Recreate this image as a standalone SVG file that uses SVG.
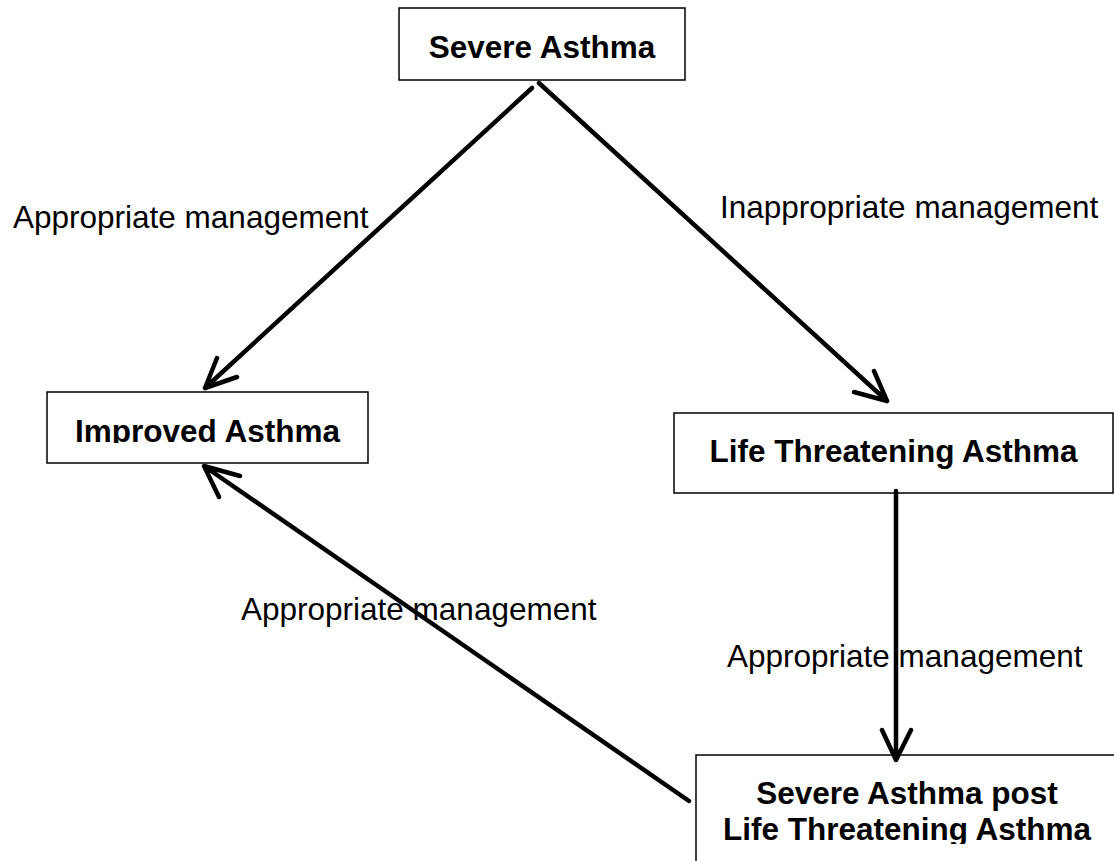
<svg xmlns="http://www.w3.org/2000/svg" width="1114" height="861" viewBox="0 0 1114 861">
<style>
.box{fill:#fff;stroke:#000;stroke-width:1.5}
.nt{font-family:"Liberation Sans",Arial,sans-serif;font-weight:bold;font-size:31.5px;fill:#000;text-anchor:middle}
.lb{font-family:"Liberation Sans",Arial,sans-serif;font-size:31.5px;fill:#000}
.cn{fill:none;stroke:#000;stroke-width:4.5;stroke-linecap:round;stroke-linejoin:round}
</style>
<defs>
<clipPath id="c1"><rect x="40" y="380" width="340" height="63"/></clipPath>
<clipPath id="c2"><rect x="690" y="750" width="424" height="94"/></clipPath>
</defs>
<rect width="1114" height="861" fill="#fff"/>
<g id="n-severe">
<rect class="box" x="399" y="8" width="286" height="72"/>
<text class="nt" x="542" y="58">Severe Asthma</text>
</g>
<g id="n-improved">
<rect class="box" x="47" y="392" width="321" height="71"/>
<text class="nt" x="207.5" y="442" clip-path="url(#c1)">Improved Asthma</text>
</g>
<g id="n-life">
<rect class="box" x="674" y="413" width="439" height="80"/>
<text class="nt" x="893.5" y="462">Life Threatening Asthma</text>
</g>
<g id="n-post">
<rect class="box" x="696" y="755" width="430" height="120"/>
<g clip-path="url(#c2)">
<text class="nt" x="907" y="804">Severe Asthma post</text>
<text class="nt" x="907" y="840">Life Threatening Asthma</text>
</g>
</g>
<g id="labels">
<text class="lb" x="13" y="228">Appropriate management</text>
<text class="lb" x="720" y="218">Inappropriate management</text>
<text class="lb" x="241" y="620">Appropriate management</text>
<text class="lb" x="727" y="667">Appropriate management</text>
</g>
<g id="connectors">
<path class="cn" d="M532,88 L205,388 M217,358 L205,388 L237,377"/>
<path class="cn" d="M539,83 L887,401 M874,371 L887,401 L854,392"/>
<path class="cn" d="M896,491 L896,760 M882,730 L896,760 L911,730"/>
<path class="cn" d="M689,801 L204,466 M240,476 L204,466 L219,497"/>
</g>
</svg>
